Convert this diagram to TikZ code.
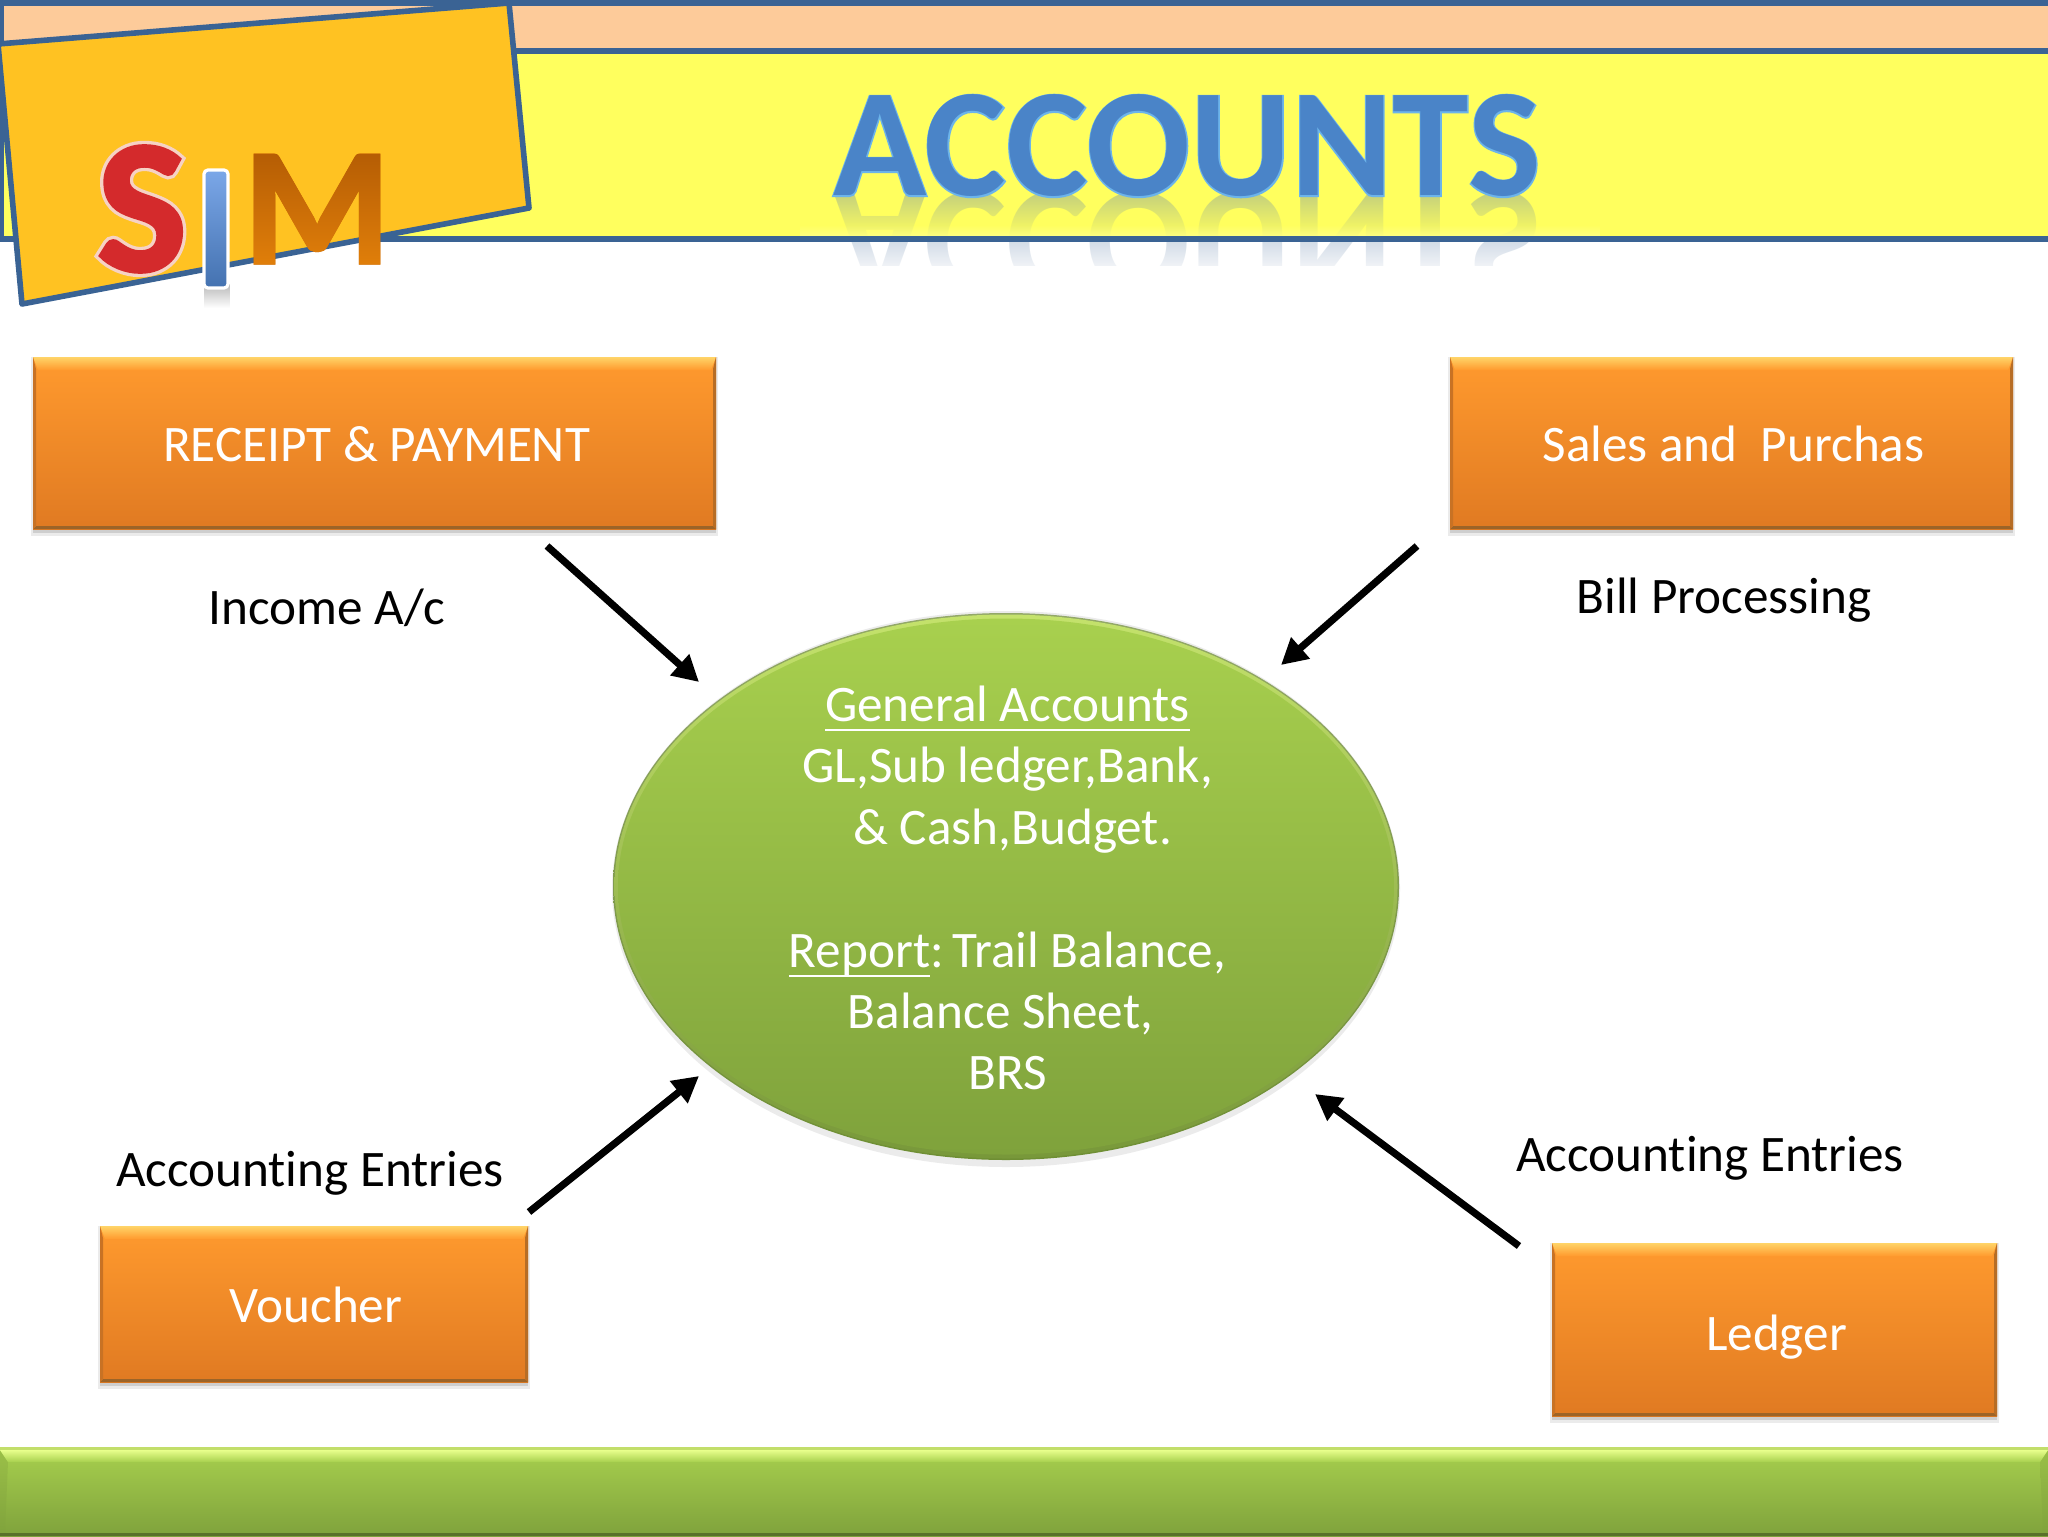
\documentclass[tikz,border=0pt]{standalone}
\usepackage{fontspec}
\setmainfont[Ligatures=NoCommon]{Carlito}
\newfontfamily\haloS[FakeBold=5.5]{Carlito Bold}
\newfontfamily\coreS[FakeBold=2]{Carlito Bold}
\newfontfamily\haloT[FakeBold=1.6]{Carlito Bold}
\newfontfamily\coreM[FakeBold=1.5]{Carlito Bold}
\usetikzlibrary{shapes.geometric,arrows.meta,fadings}
\definecolor{hdline}{HTML}{3A6394}
\definecolor{peach}{HTML}{FDCB9A}
\definecolor{hdyellow}{HTML}{FFFF5E}
\definecolor{logofill}{HTML}{FFC222}
\definecolor{orTop}{HTML}{FF9A2E}
\definecolor{orMid}{HTML}{F98B27}
\definecolor{orBot}{HTML}{E07A22}
\definecolor{grTop}{HTML}{A8D04E}
\definecolor{grMid}{HTML}{A0C74A}
\definecolor{grBot}{HTML}{7FA23C}
\definecolor{orBevel}{HTML}{FFD468}
\definecolor{orEdge}{HTML}{9C6428}
\definecolor{hdtitle}{HTML}{4A84C8}
\definecolor{hdhalo}{HTML}{6CB4EA}
\definecolor{sred}{HTML}{D42A2C}
\definecolor{shalo}{HTML}{F6D2C4}
\definecolor{iTop}{HTML}{7BA7E8}
\definecolor{iBot}{HTML}{4472B0}
\definecolor{mOr}{HTML}{CC6C08}
\definecolor{mTop}{HTML}{B45C04}
\definecolor{mBot}{HTML}{E2800A}
\definecolor{grEdgeT}{HTML}{93A868}
\definecolor{grEdgeB}{HTML}{6F8F34}
\definecolor{grRimT}{HTML}{C4E26C}
\definecolor{grRimB}{HTML}{78983A}
\definecolor{ftLight}{HTML}{E8FF8C}
\definecolor{ftEdge}{HTML}{C2DE6A}
\newcommand\ulx[1]{\leavevmode\sbox0{#1}\rlap{\rule[-5pt]{\wd0}{1.2pt}}\box0}
\newcommand\bevelbox[6]{%
  \fill[black,opacity=.08] (#2-2,#3) rectangle (#4+2,#5+7);
  \fill[black,opacity=.12] (#2,#3) rectangle (#4,#5+4);
  \path[shade,top color=orTop,middle color=orMid,bottom color=orBot] (#2,#3) rectangle (#4,#5);
  \path[shade,top color=orBevel,bottom color=orTop] (#2,#3) -- (#4,#3) -- (#4-5,#3+13) -- (#2+5,#3+13) -- cycle;
  \fill[orEdge] (#2,#5) -- (#4,#5) -- (#4-3,#5-3) -- (#2+3,#5-3) -- cycle;
  \fill[orEdge!35!orBot] (#2,#3) -- (#2+3,#3+12) -- (#2+3,#5-3) -- (#2,#5) -- cycle;
  \fill[orEdge!60!orBot] (#4,#3) -- (#4-3,#3+12) -- (#4-3,#5-3) -- (#4,#5) -- cycle;
  \node[boxtext] (#1) at ({(#2+#4)/2+2},{(#3+#5)/2+1}) {#6};}
\tikzset{
  x=0.5pt,y=-0.5pt,
  boxtext/.style={text=white,font=\fontsize{25.6}{30.7}\selectfont,inner sep=0pt},
  lbl/.style={text=black,font=\fontsize{25.6}{30.7}\selectfont,inner sep=0pt},
  flow/.style={line width=3.6pt,black,-{Triangle[length=13pt,width=13.5pt]},shorten >=0pt},
  hline/.style={hdline,line width=3pt},
}
\begin{tikzfadingfrompicture}[name=mfade]
\node[inner sep=0pt,text=transparent!0,font=\coreM\fontsize{84}{96}\selectfont] at (0,0) {M};
\end{tikzfadingfrompicture}
\begin{document}
\begin{tikzpicture}
\useasboundingbox (0,0) rectangle (2048,1536);
\fill[white] (0,0) rectangle (2048,1536);
% header
\fill[peach] (0,0) rectangle (2048,51);
\fill[hdyellow] (0,51) rectangle (2048,239);
% reflection
\node[text=hdline!75!white,opacity=.42,inner sep=0pt,yscale=-1,font=\bfseries\fontsize{77}{90}\selectfont] (reflect) at (1187,242) {ACCOUNTS};
\fill[hdyellow,path fading=north] (800,190) rectangle (1600,237);
\fill[white,path fading=north] (800,225) rectangle (1600,278);
\fill[white] (800,266) rectangle (1600,300);
\draw[hline] (0,3) -- (2048,3);
\draw[hline] (0,51) -- (2048,51);
\draw[hline] (0,239) -- (2048,239);
\draw[hline] (1,3) -- (1,239);
% logo
\draw[hdline,line width=2.8pt,fill=logofill,line join=round] (-2,44) -- (509,3) -- (529,208) -- (22,304) -- cycle;
% title
\node[inner sep=0pt,text=hdhalo,font=\haloT\fontsize{77}{90}\selectfont] (titlehalo) at (1187,146) {ACCOUNTS};
\node[inner sep=0pt,text=hdtitle,font=\bfseries\fontsize{77}{90}\selectfont] (title) at (1187,146) {ACCOUNTS};
% SIM
\node[inner sep=0pt,text=shalo,font=\haloS\fontsize{95}{110}\selectfont] (haloS) at (142,209) {S};
\node[inner sep=0pt,text=sred,font=\coreS\fontsize{95}{110}\selectfont] (letterS) at (142,209) {S};
\fill[black!60,opacity=.45,path fading=south] (204,284) rectangle (230,308);
\draw[white,line width=1.6pt,rounded corners=2pt,top color=iTop,bottom color=iBot] (204,170) rectangle (228,288);
\node[inner sep=0pt,text=mOr,font=\coreM\fontsize{84}{96}\selectfont] (letterM) at (317,209) {M};
\path[shade,top color=mTop,bottom color=mBot,path fading=mfade,fit fading=false,fading transform={shift={(317,209)}}] (245,150) rectangle (390,270);
% boxes
\bevelbox{receipt}{33}{357}{716}{529}{RECEIPT \& PAYMENT}
\bevelbox{sales}{1450}{357}{2013}{529}{Sales and\ \ Purchas}
\bevelbox{voucher}{100}{1226}{528}{1382}{Voucher}
\bevelbox{ledger}{1552}{1243}{1997}{1416}{\rule{0pt}{24pt}Ledger}
% ellipse
\node[ellipse,fill=black,opacity=.08,minimum width=394pt,minimum height=278pt,inner sep=0pt] (shadowell) at (1006,889) {};
\node[ellipse,minimum width=393pt,minimum height=273.5pt,inner sep=0pt,top color=grEdgeT,bottom color=grEdgeB] (edge) at (1006,886.5) {};
\node[ellipse,minimum width=391.5pt,minimum height=272pt,inner sep=0pt,top color=grRimT,bottom color=grRimB] (rim) at (1006,886.5) {};
\node[ellipse,minimum width=388pt,minimum height=268pt,inner sep=0pt,top color=grTop,middle color=grMid,bottom color=grBot] (hub) at (1006,886.5) {};
\node[text=white,align=center,inner sep=0pt,font=\fontsize{25.6}{30.7}\selectfont] (hubtext) at (1007.5,888) {\ulx{General Accounts}\\GL,Sub ledger,Bank,\\\hspace*{5.2pt}\&\ Cash,Budget.\\[30.7pt]\ulx{Report}:\kern-1.5pt\ Trail Balance,\\Balance Sheet,\kern7pt\\BRS};
% labels
\node[lbl] (incomeL) at (327,608) {Income A/c};
\node[lbl] (billL) at (1724,600) {Bill Processing};
\node[lbl] (entriesL) at (310,1173) {Accounting Entries};
\node[lbl] (entriesR) at (1710,1158) {Accounting Entries};
% arrows
\coordinate (a1s) at (547,546); \coordinate (a1e) at (699,682);
\coordinate (a2s) at (1417,546); \coordinate (a2e) at (1281,665);
\coordinate (a3s) at (529,1212); \coordinate (a3e) at (699,1076);
\coordinate (a4s) at (1519,1246); \coordinate (a4e) at (1315,1094);
\draw[flow] (a1s) -- (a1e);
\draw[flow] (a2s) -- (a2e);
\draw[flow] (a3s) -- (a3e);
\draw[flow] (a4s) -- (a4e);
% footer
\path[shade,top color=grTop,bottom color=grBot] (0,1447) rectangle (2048,1536);
\path[shade,top color=grTop!92!black,bottom color=grBot] (0,1450) -- (8,1462) -- (5,1532) -- (0,1536) -- cycle;
\path[shade,top color=grTop!92!black,bottom color=grBot] (2048,1450) -- (2040,1462) -- (2043,1532) -- (2048,1536) -- cycle;
\path[shade,top color=ftLight,bottom color=grTop] (0,1450) -- (2048,1450) -- (2040,1462) -- (8,1462) -- cycle;
\fill[ftEdge] (0,1447) rectangle (2048,1450);
\fill[grBot!70!black] (0,1533) rectangle (2048,1536);
\end{tikzpicture}
\end{document}
